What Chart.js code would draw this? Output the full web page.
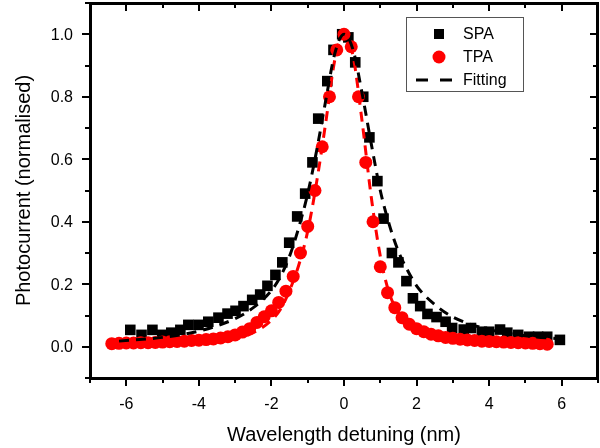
<!DOCTYPE html>
<html>
<head>
<meta charset="utf-8">
<script src="https://cdn.jsdelivr.net/npm/chart.js@4.4.1/dist/chart.umd.min.js"></script>
<style>
  body { margin: 0; background: #fff; }
  #wrap { width: 600px; height: 448px; }
</style>
</head>
<body>
<div id="wrap"><canvas id="myChart" width="600" height="448"></canvas></div>
<script>
// SPA measurement (black squares)
let spaX = [-5.89, -5.58, -5.28, -5.01, -4.76, -4.51, -4.29, -4.01, -3.74, -3.46,
  -3.21, -2.99, -2.77, -2.53, -2.31, -2.11, -1.89, -1.7, -1.51, -1.29,
  -1.07, -0.87, -0.71, -0.46, -0.29, -0.05, 0.12, 0.31, 0.53, 0.7,
  0.92, 1.09, 1.32, 1.5, 1.72, 1.9, 2.1, 2.3, 2.55, 2.8,
  2.98, 3.3, 3.5, 3.8, 4.0, 4.3, 4.5, 4.8, 5.1, 5.35,
  5.6, 5.95];
let spaY = [0.054, 0.038, 0.054, 0.038, 0.045, 0.054, 0.07, 0.07, 0.08, 0.093,
  0.106, 0.115, 0.13, 0.15, 0.167, 0.195, 0.23, 0.27, 0.333, 0.417,
  0.49, 0.59, 0.73, 0.85, 0.95, 1.0, 0.99, 0.91, 0.8, 0.67,
  0.53, 0.41, 0.3, 0.27, 0.21, 0.155, 0.13, 0.105, 0.095, 0.08,
  0.06, 0.055, 0.06, 0.048, 0.048, 0.055, 0.045, 0.038, 0.032, 0.032,
  0.032, 0.022];

// TPA measurement (red circles)
let tpaX = [-6.4, -6.2, -6.0, -5.8, -5.6, -5.4, -5.2, -5.0, -4.8, -4.6,
  -4.4, -4.2, -4.0, -3.8, -3.6, -3.4, -3.2, -3.0, -2.8, -2.6,
  -2.4, -2.2, -2.0, -1.8, -1.6, -1.4, -1.2, -1.0, -0.8, -0.6,
  -0.4, -0.2, 0.0, 0.2, 0.4, 0.6, 0.8, 1.0, 1.2, 1.4,
  1.6, 1.8, 2.0, 2.2, 2.4, 2.6, 2.8, 3.0, 3.2, 3.4,
  3.6, 3.8, 4.0, 4.2, 4.4, 4.6, 4.8, 5.0, 5.2, 5.4,
  5.6];
let tpaY = [0.01, 0.011, 0.012, 0.012, 0.013, 0.013, 0.014, 0.015, 0.016, 0.017,
  0.018, 0.02, 0.021, 0.023, 0.025, 0.028, 0.032, 0.038, 0.047, 0.058,
  0.078, 0.096, 0.115, 0.142, 0.178, 0.225, 0.3, 0.385, 0.5, 0.64,
  0.8, 0.95, 1.0, 0.96, 0.8, 0.59, 0.4, 0.256, 0.173, 0.125,
  0.093, 0.072, 0.058, 0.048, 0.04, 0.035, 0.03, 0.027, 0.024, 0.022,
  0.02, 0.018, 0.017, 0.016, 0.015, 0.014, 0.013, 0.012, 0.011, 0.01,
  0.008];

// fitting curves (dashed)
let spaFitX = [-6.2, -5, -4, -3, -2.5, -2, -1.75, -1.5, -1.25, -1,
  -0.75, -0.5, -0.25, 0, 0.25, 0.5, 0.75, 1, 1.25, 1.5,
  1.75, 2, 2.5, 3, 4, 5, 6];
let spaFitY = [0.018, 0.03, 0.05, 0.09, 0.125, 0.18, 0.225, 0.29, 0.38, 0.49,
  0.63, 0.79, 0.94, 1.0, 0.95, 0.81, 0.65, 0.5, 0.39, 0.305,
  0.245, 0.195, 0.135, 0.095, 0.055, 0.035, 0.025];
let tpaFitX = [-6.4, -5, -4, -3, -2.5, -2, -1.75, -1.5, -1.25, -1,
  -0.75, -0.5, -0.25, 0, 0.25, 0.5, 0.75, 1, 1.25, 1.5,
  1.75, 2, 2.5, 3, 4, 5.6];
let tpaFitY = [0.005, 0.008, 0.013, 0.025, 0.045, 0.085, 0.12, 0.18, 0.26, 0.37,
  0.53, 0.72, 0.92, 1.0, 0.93, 0.72, 0.48, 0.29, 0.17, 0.11,
  0.075, 0.055, 0.03, 0.02, 0.01, 0.005];

let xTicks = [-6, -4, -2, 0, 2, 4, 6];
let xMinorTicks = [-7, -5, -3, -1, 1, 3, 5, 7];
let yTicks = [0, 0.2, 0.4, 0.6, 0.8, 1.0];
let yMinorTicks = [-0.1, 0.1, 0.3, 0.5, 0.7, 0.9, 1.1];

let legendLabels = ["SPA", "TPA", "Fitting"];

const FONT = '"Liberation Sans", Arial, sans-serif';

function toPoints(xs, ys) {
  return xs.map((x, i) => ({ x: x, y: ys[i] }));
}

Chart.defaults.font.family = FONT;
Chart.defaults.color = "#000";

// frame on all four sides, major/minor ticks (out on bottom/left, in on top/right)
// and the tick labels, all placed with the scales
const frameTicks = {
  id: "frameTicks",
  afterDraw(chart) {
    let ctx = chart.ctx;
    let sx = chart.scales.x;
    let sy = chart.scales.y;
    let L = sx.left, R = sx.right, T = sy.top, B = sy.bottom;
    ctx.save();
    ctx.fillStyle = "#000";

    xTicks.concat(xMinorTicks).forEach((v) => {
      let len = xTicks.includes(v) ? 8 : 5;
      let px = Math.round(sx.getPixelForValue(v));
      ctx.fillRect(px - 1, B, 2, len);
      ctx.fillRect(px - 1, T, 2, len);
    });
    yTicks.concat(yMinorTicks).forEach((v) => {
      let len = yTicks.includes(v) ? 8 : 5;
      let py = Math.round(sy.getPixelForValue(v));
      ctx.fillRect(L - len, py - 1, len, 2);
      ctx.fillRect(R - len, py - 1, len, 2);
    });

    // frame
    ctx.fillRect(L - 1, T - 1, R - L + 2, 3);
    ctx.fillRect(L - 1, B - 1, R - L + 2, 3);
    ctx.fillRect(L - 1, T - 1, 3, B - T + 2);
    ctx.fillRect(R - 2, T - 1, 3, B - T + 2);

    ctx.font = "16px " + FONT;
    ctx.textAlign = "center";
    ctx.textBaseline = "middle";
    xTicks.forEach((v) => {
      ctx.fillText(String(v), sx.getPixelForValue(v), B + 27);
    });
    ctx.textAlign = "right";
    yTicks.forEach((v) => {
      ctx.fillText(v.toFixed(1), L - 17, sy.getPixelForValue(v) + 1);
    });
    ctx.restore();
  },
};

// legend box inside the plot, top right
const boxLegend = {
  id: "boxLegend",
  afterDraw(chart) {
    let ctx = chart.ctx;
    let ds = chart.data.datasets;
    let bx = 406, by = 17, bw = 117, bh = 74;
    ctx.save();
    ctx.fillStyle = "#fff";
    ctx.fillRect(bx, by, bw, bh);
    ctx.strokeStyle = "#555";
    ctx.lineWidth = 1;
    ctx.strokeRect(bx + 0.5, by + 0.5, bw, bh);

    let rows = [by + 17, by + 40, by + 63];
    let mx = bx + 33;

    ctx.fillStyle = ds[2].backgroundColor;
    ctx.fillRect(mx - 5, rows[0] - 5, 10, 10);

    ctx.fillStyle = ds[3].backgroundColor;
    ctx.beginPath();
    ctx.arc(mx, rows[1], 6.5, 0, Math.PI * 2);
    ctx.fill();

    ctx.fillStyle = ds[0].borderColor;
    ctx.fillRect(bx + 10, rows[2] - 1.5, 12, 3);
    ctx.fillRect(bx + 34, rows[2] - 1.5, 12, 3);

    ctx.fillStyle = "#000";
    ctx.font = "16px " + FONT;
    ctx.textBaseline = "middle";
    legendLabels.forEach((t, i) => {
      ctx.fillText(t, bx + 57, rows[i] + 1);
    });
    ctx.restore();
  },
};

new Chart("myChart", {
  type: "scatter",
  data: {
    datasets: [
      {
        label: "Fitting",
        data: toPoints(spaFitX, spaFitY),
        showLine: true,
        borderColor: "#000",
        borderWidth: 3,
        borderDash: [10, 7],
        pointRadius: 0,
        cubicInterpolationMode: "monotone",
        order: 0,
      },
      {
        label: "TPA fit",
        data: toPoints(tpaFitX, tpaFitY),
        showLine: true,
        borderColor: "#ff0000",
        borderWidth: 3,
        borderDash: [10, 7],
        pointRadius: 0,
        cubicInterpolationMode: "monotone",
        order: 0,
      },
      {
        label: "SPA",
        data: toPoints(spaX, spaY),
        pointStyle: "rect",
        pointRadius: 7.5,
        backgroundColor: "#000",
        borderColor: "#000",
        borderWidth: 0,
        order: 2,
      },
      {
        label: "TPA",
        data: toPoints(tpaX, tpaY),
        pointStyle: "circle",
        pointRadius: 6.5,
        backgroundColor: "#ff0000",
        borderColor: "#ff0000",
        borderWidth: 0,
        order: 1,
      },
    ],
  },
  options: {
    responsive: false,
    animation: false,
    devicePixelRatio: 1,
    layout: { autoPadding: false, padding: { top: 3, right: 2, left: 0, bottom: 0 } },
    plugins: {
      legend: { display: false },
      tooltip: { enabled: false },
    },
    scales: {
      x: {
        type: "linear",
        min: -7,
        max: 7,
        afterBuildTicks: (s) => {
          s.ticks = xTicks.map((v) => ({ value: v }));
        },
        afterFit: (s) => {
          s.height = 70;
        },
        grid: { display: false, drawTicks: false },
        border: { display: false },
        ticks: { display: false },
        title: {
          display: true,
          text: "Wavelength detuning (nm)",
          font: { size: 20 },
          padding: { top: 0, bottom: 1 },
        },
      },
      y: {
        type: "linear",
        min: -0.1,
        max: 1.1,
        afterBuildTicks: (s) => {
          s.ticks = yTicks.map((v) => ({ value: v }));
        },
        afterFit: (s) => {
          s.width = 90;
        },
        grid: { display: false, drawTicks: false },
        border: { display: false },
        ticks: { display: false },
        title: {
          display: true,
          text: "Photocurrent (normalised)",
          font: { size: 20 },
          padding: { top: 12, bottom: 0 },
        },
      },
    },
  },
  plugins: [frameTicks, boxLegend],
});
</script>
</body>
</html>
